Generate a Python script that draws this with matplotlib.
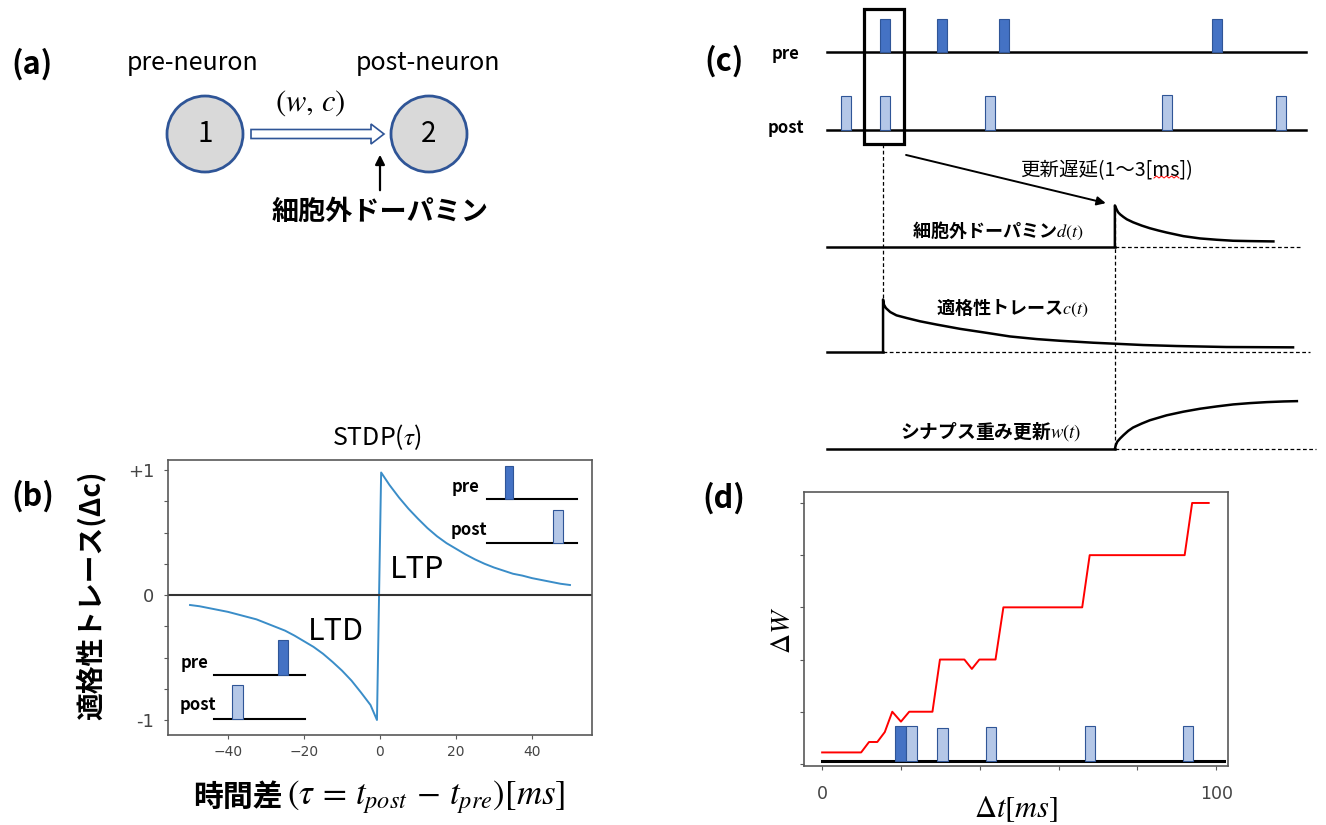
import matplotlib.pyplot as plt
import matplotlib.patches as mpatches

plt.rcParams['font.family'] = ['Noto Sans CJK JP', 'DejaVu Sans']
plt.rcParams['mathtext.fontset'] = 'stix'

W, H = 1326, 825
DARK = '#4472c4'
LIGHT = '#b4c7e7'
EDGE = '#2f5597'
GRAY = '#595959'
TICKC = '#444444'

# (a) the two neurons
node_x = [205, 429]
node_y = [134, 134]
node_lbl = ['1', '2']

# (b) STDP window
tau = [-50, -47.5, -45, -42.5, -40, -37.5, -35, -32.5, -30, -27.5, -25, -22.5, -20,
       -17.5, -15, -12.5, -10, -7.5, -5, -2.5, -0.8,
       0.3, 2.5, 5, 7.5, 10, 12.5, 15, 17.5, 20, 22.5, 25, 27.5, 30, 32.5, 35,
       37.5, 40, 42.5, 45, 47.5, 50]
dc = [-0.08, -0.09, -0.105, -0.12, -0.135, -0.155, -0.175, -0.195, -0.225, -0.255,
      -0.285, -0.325, -0.37, -0.415, -0.47, -0.535, -0.605, -0.685, -0.78, -0.88, -1.0,
      0.98, 0.88, 0.78, 0.69, 0.61, 0.535, 0.47, 0.415, 0.37, 0.325, 0.285, 0.25,
      0.22, 0.195, 0.17, 0.155, 0.135, 0.12, 0.105, 0.09, 0.08]
tau_ticks = [-40, -20, 0, 20, 40]
dc_ticks = [-1, -0.75, -0.5, -0.25, 0, 0.25, 0.5, 0.75, 1]
dc_ticklabels = ['-1', '', '', '', '0', '', '', '', '+1']

# (c) spike trains and traces (time in ms-like units)
pre_spk = [12.1, 24.0, 37.0, 81.4]
pre_h = [1.0, 1.0, 1.0, 1.0]
post_spk = [4.0, 12.1, 34.0, 71.0, 94.8]
post_h = [1.03, 1.03, 1.03, 1.06, 1.03]
d_t = [60.1, 60.1, 60.5, 60.8, 61.2, 61.9, 62.6, 63.9, 65.7, 67.4, 69.2, 70.9,
       74.4, 77.9, 81.4, 84.8, 88.3, 93.2]
d_v = [0.0, 1.26, 1.13, 1.05, 0.99, 0.91, 0.84, 0.75, 0.65, 0.57, 0.50, 0.44,
       0.33, 0.26, 0.22, 0.19, 0.18, 0.17]
c_t = [11.7, 11.7, 11.9, 12.3, 13.2, 14.5, 16.6, 19.4, 22.9, 27.8, 33.3, 38.2,
       43.8, 48.6, 55.6, 60.1, 66.0, 73.0, 83.4, 97.3]
c_v = [0.0, 1.59, 1.43, 1.33, 1.21, 1.11, 1.03, 0.93, 0.83, 0.70, 0.58, 0.47,
       0.39, 0.34, 0.28, 0.25, 0.21, 0.18, 0.15, 0.14]
w_t = [60.1, 60.3, 60.6, 61.2, 61.9, 62.9, 63.9, 65.7, 67.4, 70.9, 74.4, 77.9,
       81.4, 84.8, 88.3, 91.8, 95.3, 98.1]
w_v = [0.0, 0.12, 0.22, 0.32, 0.42, 0.55, 0.65, 0.77, 0.87, 1.02, 1.13, 1.22,
       1.29, 1.35, 1.39, 1.42, 1.44, 1.45]

# (d) weight change and spikes
t_d = [0, 9.9, 11.9, 14.0, 15.9, 17.8, 20.0, 22.1, 28.0, 29.9, 36.1,
       38.0, 39.9, 44.0, 46.0, 66.0, 67.9, 92.0, 93.9, 98.1]
dw = [0.22, 0.22, 0.42, 0.42, 0.61, 1.0, 0.81, 1.0, 1.0, 2.0, 2.0,
      1.82, 2.0, 2.0, 3.0, 3.0, 4.0, 4.0, 5.0, 5.0]
d_pre_spk = [19.85]
d_pre_h = [0.67]
d_post_spk = [22.65, 30.55, 42.9, 67.95, 92.9]
d_post_h = [0.67, 0.62, 0.65, 0.67, 0.67]

fig = plt.figure(figsize=(W / 100, H / 100), dpi=100)

# background axes in pixel units for the free drawing / text
bg = fig.add_axes([0, 0, 1, 1])
bg.set_xlim(0, W)
bg.set_ylim(H, 0)
bg.axis('off')

# ---------------- (a)
bg.text(32, 64, '(a)', fontsize=22, fontweight='bold', ha='center', va='center')
bg.text(193, 63, 'pre-neuron', fontsize=18, ha='center', va='center')
bg.text(428, 63, 'post-neuron', fontsize=18, ha='center', va='center')
for x, y, lbl in zip(node_x, node_y, node_lbl):
    bg.add_patch(mpatches.Circle((x, y), 38, fc='#d9d9d9', ec=EDGE, lw=2.0))
    bg.text(x, y, lbl, fontsize=20, ha='center', va='center')
bg.add_patch(mpatches.FancyArrow(node_x[0] + 46, node_y[0], node_x[1] - node_x[0] - 91, 0,
                                 width=9, head_width=20, head_length=13,
                                 length_includes_head=True, fc='white', ec=EDGE, lw=1.2))
bg.text(310, 103, '$(w,\\,c)$', fontsize=22, ha='center', va='center')
bg.annotate('', xy=(380, 152), xytext=(380, 193),
            arrowprops=dict(arrowstyle='-|>', color='k', lw=1.6, mutation_scale=14))
bg.text(380, 212, '細胞外ドーパミン', fontsize=19.5, fontweight='bold', ha='center', va='center')

# ---------------- (b)
bg.text(33, 496, '(b)', fontsize=22, fontweight='bold', ha='center', va='center')
bg.text(377, 437, 'STDP($\\tau$)', fontsize=18, ha='center', va='center')
bg.text(91, 595, '適格性トレース(Δc)', fontsize=20, fontweight='bold', rotation=90,
        ha='center', va='center')
bg.text(283, 797, '時間差', fontsize=21.5, fontweight='bold', ha='right', va='center')
bg.text(287, 797, '$(\\tau\\,=\\,t_{post}\\,-\\,t_{pre})[ms]$', fontsize=25,
        ha='left', va='center')

axb = fig.add_axes([168 / W, 1 - 735 / H, 424 / W, 275 / H])
axb.plot(tau, dc, color='#3a8dc8', lw=1.4)
axb.axhline(0, color='#333333', lw=1.5)
axb.set_xlim(-55.8, 55.8)
axb.set_ylim(-1.12, 1.08)
axb.set_xticks(tau_ticks)
axb.set_yticks(dc_ticks)
axb.set_yticklabels(dc_ticklabels)
axb.tick_params(axis='x', direction='out', length=3, color=GRAY, labelcolor=TICKC,
                labelsize=10, pad=4)
axb.tick_params(axis='y', direction='out', length=3, color=GRAY, labelcolor=TICKC,
                labelsize=13, pad=7)
for lab in axb.get_xticklabels() + axb.get_yticklabels():
    lab.set_fontfamily('DejaVu Sans')
for sp in axb.spines.values():
    sp.set_color(GRAY)
    sp.set_linewidth(1.2)

# insets: spike order sketches
axb.plot([28.2, 51.8], [0.77, 0.77], color='k', lw=1.5)
axb.bar([33.95], [0.26], width=2.1, bottom=0.77, color=DARK, ec=EDGE, lw=0.8, zorder=3)
axb.plot([28.2, 51.8], [0.416, 0.416], color='k', lw=1.5)
axb.bar([46.85], [0.264], width=2.6, bottom=0.416, color=LIGHT, ec=EDGE, lw=0.8, zorder=3)
axb.text(22.6, 0.86, 'pre', fontsize=12, fontweight='bold', ha='center', va='center')
axb.text(23.4, 0.52, 'post', fontsize=12, fontweight='bold', ha='center', va='center')

axb.plot([-43.7, -19.7], [-0.64, -0.64], color='k', lw=1.5)
axb.bar([-25.5], [0.28], width=2.6, bottom=-0.64, color=DARK, ec=EDGE, lw=0.8, zorder=3)
axb.plot([-43.7, -19.7], [-0.99, -0.99], color='k', lw=1.5)
axb.bar([-37.5], [0.27], width=2.8, bottom=-0.99, color=LIGHT, ec=EDGE, lw=0.8, zorder=3)
axb.text(-48.9, -0.54, 'pre', fontsize=12, fontweight='bold', ha='center', va='center')
axb.text(-47.9, -0.88, 'post', fontsize=12, fontweight='bold', ha='center', va='center')

axb.text(9.7, 0.2, 'LTP', fontsize=22, ha='center', va='center')
axb.text(-11.5, -0.29, 'LTD', fontsize=22, ha='center', va='center')

# ---------------- (c)
bg.text(724, 61, '(c)', fontsize=22, fontweight='bold', ha='center', va='center')
bg.text(786, 54, 'pre', fontsize=12, fontweight='bold', ha='center', va='center')
bg.text(786, 128, 'post', fontsize=12, fontweight='bold', ha='center', va='center')

axc = fig.add_axes([760 / W, 1 - 470 / H, 566 / W, 470 / H])
axc.set_xlim(-13.99, 104.18)
axc.set_ylim(-12.667, 1.576)
axc.axis('off')

base_pre, base_post, base_d, base_c, base_w = 0, -2.36, -5.91, -9.09, -12.03
LW = 1.8
DASH = (0, (3, 2))

axc.plot([0, 100], [base_pre, base_pre], color='k', lw=LW)
axc.bar(pre_spk, pre_h, width=2.1, bottom=base_pre, color=DARK, ec=EDGE, lw=0.8, zorder=3)
axc.plot([0, 100], [base_post, base_post], color='k', lw=LW)
axc.bar(post_spk, post_h, width=2.1, bottom=base_post, color=LIGHT, ec=EDGE, lw=0.8, zorder=3)

axc.add_patch(mpatches.Rectangle((7.7, -2.79), 8.4, 4.09, fill=False, ec='k', lw=2.3, zorder=4))

# d(t)
axc.plot([0, d_t[0]], [base_d, base_d], color='k', lw=LW)
axc.plot(d_t, [base_d + v for v in d_v], color='k', lw=LW)
axc.plot([d_t[0], 99.2], [base_d, base_d], color='k', lw=0.9, ls=DASH)
# c(t)
axc.plot([0, c_t[0]], [base_c, base_c], color='k', lw=LW)
axc.plot(c_t, [base_c + v for v in c_v], color='k', lw=LW)
axc.plot([c_t[0], 100.8], [base_c, base_c], color='k', lw=0.9, ls=DASH)
# w(t)
axc.plot([0, w_t[0]], [base_w, base_w], color='k', lw=LW)
axc.plot(w_t, [base_w + v for v in w_v], color='k', lw=LW)
axc.plot([w_t[0], 102.0], [base_w, base_w], color='k', lw=0.9, ls=DASH)

# dashed guides
axc.plot([c_t[0], c_t[0]], [-2.79, base_c + c_v[1]], color='k', lw=0.9, ls=DASH)
axc.plot([d_t[0], d_t[0]], [base_d + d_v[1], base_w], color='k', lw=0.9, ls=DASH)

axc.annotate('', xy=(58.2, -4.58), xytext=(16.5, -3.12),
             arrowprops=dict(arrowstyle='-|>', color='k', lw=1.4, mutation_scale=13,
                             shrinkA=0, shrinkB=0))

bg.text(1106, 171, '更新遅延(1～3[ms])', fontsize=14, ha='center', va='center')
bg.plot([1154, 1156.5, 1159, 1161.5, 1164, 1166.5, 1169, 1171.5, 1174, 1176.5, 1179],
        [178, 176, 178, 176, 178, 176, 178, 176, 178, 176, 178], color='red', lw=0.7)
bg.text(998, 231, '細胞外ドーパミン$d(t)$', fontsize=13, fontweight='bold', ha='center', va='center')
bg.text(1012, 308, '適格性トレース$c(t)$', fontsize=13, fontweight='bold', ha='center', va='center')
bg.text(991, 432, 'シナプス重み更新$w(t)$', fontsize=13.5, fontweight='bold', ha='center', va='center')

# ---------------- (d)
bg.text(724, 498, '(d)', fontsize=22, fontweight='bold', ha='center', va='center')

axd = fig.add_axes([804 / W, 1 - 766 / H, 424 / W, 274 / H])
axd.plot(t_d, dw, color='red', lw=1.4)
axd.plot([0, 101.9], [0.064, 0.064], color='k', lw=2.2)
axd.bar(d_pre_spk, d_pre_h, width=2.9, bottom=0.064, color=DARK, ec=EDGE, lw=0.8, zorder=3)
axd.bar(d_post_spk, d_post_h, width=2.6, bottom=0.064, color=LIGHT, ec=EDGE, lw=0.8, zorder=3)
axd.set_xlim(-4.6, 103)
axd.set_ylim(-0.04, 5.21)
axd.set_xticks([0, 20, 40, 60, 80, 100])
axd.set_xticklabels(['0', '', '', '', '', '100'])
axd.set_yticks([0, 1, 2, 3, 4, 5])
axd.set_yticklabels([])
axd.tick_params(direction='out', length=3, color=GRAY, labelcolor=TICKC, labelsize=12.5)
axd.tick_params(axis='x', pad=11)
for lab in axd.get_xticklabels():
    lab.set_fontfamily('DejaVu Sans')
for sp in axd.spines.values():
    sp.set_color(GRAY)
    sp.set_linewidth(1.2)
bg.text(782, 630, '$\\Delta W$', fontsize=20, rotation=90, ha='center', va='center')
bg.text(1016, 809, '$\\Delta t[ms]$', fontsize=22, ha='center', va='center')

fig.savefig('out.png', dpi=100)
